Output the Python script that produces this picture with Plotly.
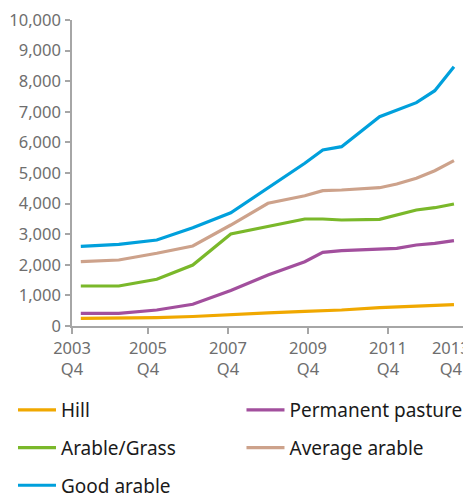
import plotly.graph_objects as go

# x positions: years since 2003 Q4
x_years = [0.32, 1.27, 2.22, 3.12, 4.07, 5.0, 5.92, 6.37, 6.84, 7.79, 8.22, 8.71, 9.17, 9.65]

hill = [250, 255, 275, 310, 380, 430, 480, 500, 523, 600, 620, 640, 680, 696]
permanent_pasture = [410, 415, 523, 709, 1160, 1667, 2101, 2408, 2461, 2510, 2539, 2647, 2702, 2788]
arable_grass = [1307, 1307, 1526, 1993, 3007, 3250, 3497, 3497, 3464, 3486, 3627, 3791, 3866, 3987]
average_arable = [2101, 2157, 2376, 2614, 3300, 4010, 4258, 4422, 4444, 4520, 4640, 4827, 5075, 5402]
good_arable = [2605, 2670, 2810, 3212, 3700, 4500, 5317, 5752, 5860, 6840, 7050, 7298, 7690, 8474]

tick_vals = [0.1, 2, 4, 6, 8, 10]
PAD = "\u00a0" * 8
tick_text = ["2003<br>Q4", "2005<br>Q4", "2007<br>Q4", "2009<br>Q4", "2011<br>Q4",
             "2013" + PAD + "<br>Q4" + PAD]

series = [
    ("Hill", hill, "#f0a800", "legend", "g1"),
    ("Permanent pasture", permanent_pasture, "#a24f9d", "legend2", "g2"),
    ("Arable/Grass", arable_grass, "#7ab82a", "legend", "g3"),
    ("Average arable", average_arable, "#cda28b", "legend2", "g4"),
    ("Good arable", good_arable, "#00a0dc", "legend", "g5"),
]

FONT = "Noto Sans"
fig = go.Figure()
for name, vals, color, leg, grp in series:
    fig.add_trace(go.Scatter(
        x=x_years, y=vals, name=name, mode="lines",
        line=dict(color=color, width=3.2),
        legend=leg, legendgroup=grp,
    ))

legend_common = dict(
    orientation="v", yanchor="top", xanchor="left",
    font=dict(family=FONT, size=19, color="#1a1a1a"),
    bgcolor="rgba(0,0,0,0)", tracegroupgap=10,
    itemwidth=38,
)
fig.update_layout(
    width=467, height=493,
    margin=dict(l=64, r=7, t=12, b=175, autoexpand=False),
    plot_bgcolor="white", paper_bgcolor="white",
    font=dict(family=FONT, size=16.5, color="#6e6e6e"),
    legend=dict(x=-0.149, y=-0.2124, **legend_common),
    legend2=dict(x=0.428, y=-0.2124, **legend_common),
    xaxis=dict(
        range=[0.1, 10.001], tickmode="array", tickvals=tick_vals, ticktext=tick_text,
        showgrid=False, zeroline=False, showline=True, linecolor="#a6a6a6", linewidth=1.5,
        ticks="outside", ticklen=6, tickcolor="#a6a6a6", tickwidth=1.5, automargin=False,
        ticklabeloverflow="allow",
        tickfont=dict(family=FONT, size=16.5, color="#6e6e6e"),
    ),
    yaxis=dict(
        range=[0, 10000], tickmode="linear", tick0=0, dtick=1000, tickformat=",d",
        showgrid=False, zeroline=False, showline=True, linecolor="#a6a6a6", linewidth=1.5,
        ticks="outside", ticklen=5, tickcolor="#a6a6a6", tickwidth=1.5, automargin=False,
        ticklabelstandoff=1, ticklabeloverflow="allow",
        tickfont=dict(family=FONT, size=16.5, color="#6e6e6e"),
    ),
    showlegend=True,
)
fig.write_html("out.html")
